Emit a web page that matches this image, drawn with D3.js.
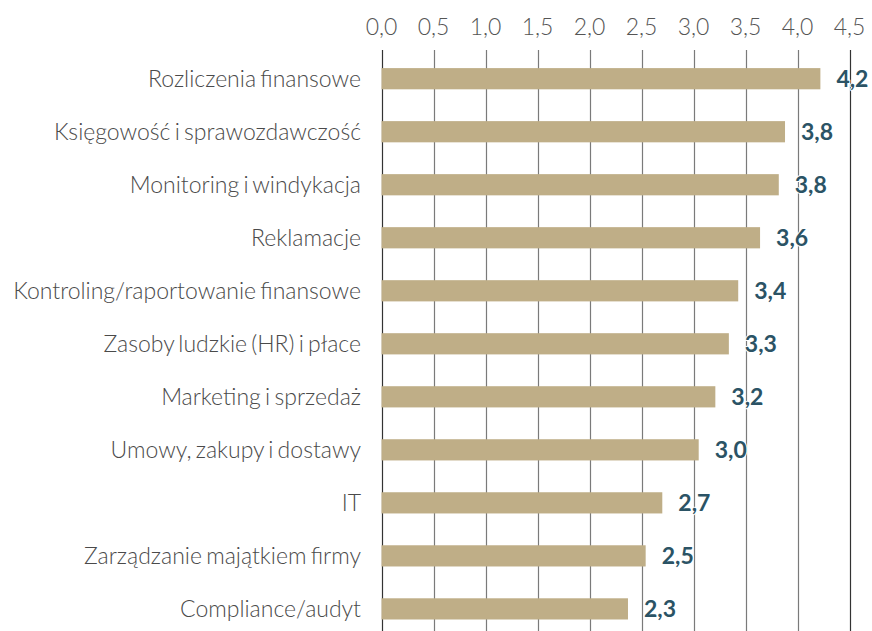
<!DOCTYPE html>
<html>
<head>
<meta charset="utf-8">
<script src="https://cdn.jsdelivr.net/npm/d3@7"></script>
<style>
  body { margin: 0; background: #fff; }
  text { font-family: "Lato Light", Lato, "Open Sans", sans-serif; }
  text.val { font-family: Lato, "Open Sans", sans-serif; }
</style>
</head>
<body>
<script>
var width = 872,
    height = 631;

// dane
var categories = [
    "Rozliczenia finansowe",
    "Księgowość i sprawozdawczość",
    "Monitoring i windykacja",
    "Reklamacje",
    "Kontroling/raportowanie finansowe",
    "Zasoby ludzkie (HR) i płace",
    "Marketing i sprzedaż",
    "Umowy, zakupy i dostawy",
    "IT",
    "Zarządzanie majątkiem firmy",
    "Compliance/audyt"
];
var values = [4.22, 3.88, 3.82, 3.64, 3.43, 3.34, 3.21, 3.05, 2.70, 2.54, 2.37];
var valueLabels = ["4,2", "3,8", "3,8", "3,6", "3,4", "3,3", "3,2", "3,0", "2,7", "2,5", "2,3"];
var ticks = [0, 0.5, 1, 1.5, 2, 2.5, 3, 3.5, 4, 4.5];

var svg = d3.select("body").append("svg")
    .attr("width", width)
    .attr("height", height);

var x = d3.scaleLinear()
    .domain([0, 4.5])
    .range([381.5, 849.5]);

var y = d3.scaleBand()
    .domain(categories)
    .range([52.2, 635.4])
    .paddingInner(0.6)
    .paddingOuter(0.3);

var fmt = function (d) { return d3.format(".1f")(d).replace(".", ","); };

// siatka
svg.append("g").selectAll("line")
    .data(ticks)
    .enter().append("line")
    .attr("x1", function (d) { return Math.round(x(d)) + 0.5; })
    .attr("x2", function (d) { return Math.round(x(d)) + 0.5; })
    .attr("y1", 50)
    .attr("y2", height)
    .attr("stroke", function (d, i) { return (i === 0 || i === ticks.length - 1) ? "#333" : "#7a7a7a"; })
    .attr("stroke-width", 1.2);

// etykiety osi
svg.append("g").selectAll("text")
    .data(ticks)
    .enter().append("text")
    .attr("x", function (d) { return x(d); })
    .attr("y", 35)
    .attr("text-anchor", "middle")
    .attr("font-size", 23)
    .attr("font-weight", 300)
    .attr("fill", "#555")
    .text(fmt);

// słupki
svg.append("g").selectAll("rect")
    .data(values)
    .enter().append("rect")
    .attr("x", x(0))
    .attr("y", function (d, i) { return y(categories[i]); })
    .attr("width", function (d) { return x(d) - x(0); })
    .attr("height", y.bandwidth())
    .attr("fill", "#bfae87");

// kategorie
svg.append("g").selectAll("text")
    .data(categories)
    .enter().append("text")
    .attr("x", 361)
    .attr("y", function (d) { return y(d) + y.bandwidth() / 2; })
    .attr("dy", "0.35em")
    .attr("text-anchor", "end")
    .attr("font-size", 23)
    .attr("font-weight", 300)
    .attr("word-spacing", -2)
    .attr("fill", "#4a4a4a")
    .text(function (d) { return d; });

// wartości
svg.append("g").selectAll("text")
    .data(values)
    .enter().append("text")
    .attr("class", "val")
    .attr("x", function (d) { return x(d) + 16; })
    .attr("y", function (d, i) { return y(categories[i]) + y.bandwidth() / 2; })
    .attr("dy", "0.36em")
    .attr("font-size", 23)
    .attr("font-weight", 700)
    .attr("fill", "#2b5365")
    .attr("stroke", "#fff")
    .attr("stroke-width", 2)
    .attr("paint-order", "stroke")
    .text(function (d, i) { return valueLabels[i]; });
</script>
</body>
</html>
